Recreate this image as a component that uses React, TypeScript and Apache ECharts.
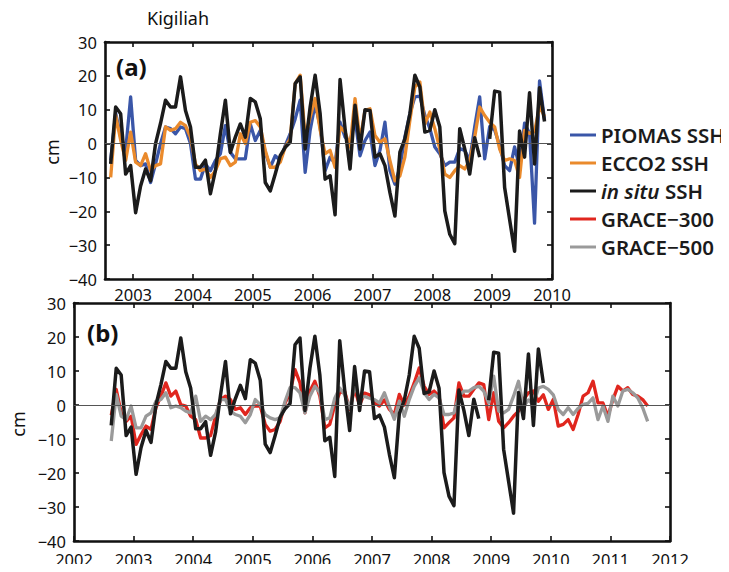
import React, { useEffect, useRef } from "react";
import * as echarts from "echarts";

// Monthly series, first month is August 2002 (mid-month decimal years)
const START_YEAR = 2002;
const START_MONTH = 8;

// SSH anomalies at Kigiliah (cm)
const piomasSSH = [
  -5, 9, 2, -2, 13.8, -5, -6.5, -6, -11.5, -6, 0, 4.9, 4.4, 2.9, 4.9, 4.4, 0, -10.5, -10.5, -6,
  -8, -5, -3, 5.3, -2.6, -4.5, -4.5, -4.5, 5.8, 0.9, 3.9, -2.6, -7, -3.6, -5, -0.6, 2.9, 7.3, 12.8, -8.5,
  3.9, 11.8, 5, -8, -4, -6, 6.3, 1.9, 0.4, 7.3, -3.6, 0.9, 3.4, -6.5, -2, 6.3, -8, -12, -7, 2,
  8.8, 13.8, 14, 8.3, 4.5, -1, -3, -6.5, -5.5, -5.5, -1.5, -2, -5, 5, 13.8, -4.5, 5, 4, -0.6, -6.5,
  -8, -1, -7, 6, 3, -23.5, 18.5, 7,
];

const ecco2SSH = [
  -10, 8.3, 1, -5, 3.4, -5.5, -6.5, -3, -8, -6.5, -6, 4.9, 3.9, 4.4, 6.3, 5.3, 1.9, -6, -8, -7.5,
  -10, -8, -4.5, -4, -6.5, -5.5, 2.9, 0, 6.3, 6.8, 4.9, -2, -7, -7, -5.5, -1, 1.4, 17.7, 20.2, 1.9,
  7.8, 13.3, 4, -3, -2, -7, 4.9, 3.4, -1, 13.3, 0.9, 9.8, 10.3, 2.4, 0.4, 1.4, -5, -11, -9.5, -4,
  6.8, 16.7, 18.2, 5.8, 9.3, 4.4, -1.6, -9, -10, -8, -6.5, -7.5, -5, 1.9, 10.8, 8.3, 6.3, 4.9, -1.6, -5,
  -4.5, -5, -10, 3.9, 3, 3.5, 11, 8,
];

const inSituSSH = [
  -6, 10.8, 8.8, -9, -6.5, -20.4, -12.5, -7.5, -11, 0, 6, 12.8, 10.8, 10.8, 19.7, 9.8, 4.9, -7, -7, -4.9,
  -14.8, -8, 2.9, 12.8, -2.6, 1.9, 5.8, 1.9, 13.3, 12.3, 7.3, -11.5, -14, -9, -3.6, -1.1, 0.4, 17.7, 19.7, -1.6,
  10.8, 20.2, 8.8, -10.5, -9.5, -21, 18.9, 4.4, -7.5, 11.3, -1.6, 10, 9.8, -4, -3, -6.5, -14.5, -21.4, -2.5, 1.4,
  8.8, 20.2, 16.7, 3.4, 3.9, 10, 4.9, -19.9, -26.8, -29.6, 4.4, -1.6, -9, 1.7, -4, null, 1.4, 15.5, 15.2, -13,
  -22.4, -31.8, 3.7, -4, 15, -6, 16.5, 6.5,
];

const grace300 = [
  -3, 4.6, -2.3, -4.8, -3.3, -11.6, -8.7, -6.2, -7.2, -0.8, 2.6, 6.5, 2.6, 4.1, 0.1, -0.3, -3.3, -4.3, -9.7, -9.7,
  -9, -3.3, 1.6, 2.6, 1.6, -1.3, -0.8, -2.8, -0.8, -0.3, -0.3, -5.7, -7.7, -7.2, -4.8, 0.6, 3.6, 10.4, 6.5, -2.3,
  4.1, 7, 2.6, -6.7, -5.7, 0, 3.6, 4, -1.3, 4.6, 0, 3.5, 3, 0.6, -0.3, 1.5, -1.3, -2.8, 3.1, 0,
  2.6, 6.5, 10.9, 5.5, 3.1, 4.1, 2.6, -6.7, -5.2, -3.8, 6.5, 2.6, 2.6, 4.6, 6.5, 6, -4.3, 3.6, -4.8, -6.7,
  -5.2, -3.3, -1.8, 1.6, 3.6, 4.1, 1.1, 3, -1.3, 1.6, -6.2, -5.7, -4.3, -7.2, -2.8, 2.6, 3.6, 7, 0.6, 0.6,
  -3.3, 1.6, 5.5, 4.1, 5.1, 3.1, 2.6, 1.6, -0.3,
];

const grace500 = [
  -10.6, 3.1, -3.3, -4.3, -0.3, -6.7, -6.7, -3.3, -2.3, 1.1, 1.6, 3.6, -0.8, -0.3, -0.8, -1.8, -2.3, 2.6, -4.8, -3.3,
  -4.3, -2.8, 1.6, 1.6, -1.8, -2.8, -3.3, -5.2, -2.8, 1.6, 0.1, -2.8, -3.8, -4.3, -3.8, 1.1, 5.1, 5.1, 3.6, -2.3,
  2.6, 5.5, 3.6, -4.3, -3.8, 2, 5, 3, -1, 5.5, 2, 2.5, 2, 1.6, 0.6, 3.6, -0.5, -4.2, 1.1, -3.3,
  1.6, 5.5, 8, 3.6, 1.6, 3.1, 2.1, -2.8, -2.8, -2.3, 2.6, 4.1, 4.1, 5.1, 5.5, 4.1, 0.6, 8.5, -1.8, -2.3,
  -1.3, 2.6, 7, -0.5, 1.5, 0, 5, 5.5, 4.6, 3, -1.3, -2.8, -0.8, -2.8, -1, 0.2, 0.5, 2.1, -4.3, -0.3,
  -4.8, 2.6, -0.3, 4.1, 4.6, 3.6, 2.1, -0.8, -4.8,
];

const yearTicksA = [2003, 2004, 2005, 2006, 2007, 2008, 2009, 2010];

const COLORS = {
  piomas: "#3a56a8",
  ecco2: "#ea8a2c",
  insitu: "#1b1b1b",
  g300: "#e0261e",
  g500: "#9a9a9a",
};

const FONT = "'Noto Sans', 'DejaVu Sans', sans-serif";

function toPairs(values: (number | null)[]) {
  return values.map((v, i) => [START_YEAR + (START_MONTH - 0.5 + i) / 12, v]);
}

const minus = (v: number) => String(v).replace("-", "\u2212");
const year = (v: number) => String(Math.round(v));

export default function App() {
  const ref = useRef<HTMLDivElement>(null);

  useEffect(() => {
    if (!ref.current) return;
    const chart = echarts.init(ref.current, null, { renderer: "svg" });

    const frame = { show: true, onZero: false, lineStyle: { color: "#111", width: 2.6 } };
    const tick = { show: true, inside: true, length: 5, lineStyle: { color: "#111", width: 1.6 } };
    const label = { color: "#111", fontSize: 16.5, lineHeight: 16, fontFamily: FONT };

    const yBase = { type: "value", min: -40, max: 30, interval: 10, splitLine: { show: false } };
    const line = (name: string, data: (number | null)[], color: string, xi: number, yi: number, width = 3.3, extra = {}) => ({
      type: "line",
      name,
      data: toPairs(data),
      xAxisIndex: xi,
      yAxisIndex: yi,
      showSymbol: false,
      symbol: "none",
      connectNulls: false,
      lineStyle: { color, width, join: "round" },
      itemStyle: { color },
      ...extra,
    });
    const zeroLine = {
      markLine: {
        silent: true,
        symbol: "none",
        label: { show: false },
        lineStyle: { color: "#555", width: 1, type: "solid" },
        data: [{ yAxis: 0 }],
      },
    };

    chart.setOption({
      animation: false,
      backgroundColor: "#fff",
      textStyle: { fontFamily: FONT },
      grid: [
        { left: 105, top: 42, width: 447, height: 237 },
        { left: 74, top: 303, width: 596, height: 238 },
      ],
      xAxis: [
        {
          type: "value", gridIndex: 0, position: "bottom", min: 2002.53, max: 2010,
          axisLine: frame, splitLine: { show: false },
          axisTick: { ...tick, customValues: yearTicksA },
          axisLabel: { ...label, margin: 7, customValues: yearTicksA, formatter: year },
        },
        {
          type: "value", gridIndex: 0, position: "top", min: 2002.53, max: 2010,
          axisLine: frame, splitLine: { show: false },
          axisTick: { ...tick, customValues: yearTicksA },
          axisLabel: { show: false },
        },
        {
          type: "value", gridIndex: 1, position: "bottom", min: 2002, max: 2012, interval: 1,
          axisLine: frame, splitLine: { show: false }, axisTick: tick,
          axisLabel: { ...label, margin: 10, formatter: year },
        },
        {
          type: "value", gridIndex: 1, position: "top", min: 2002, max: 2012, interval: 1,
          axisLine: frame, splitLine: { show: false }, axisTick: tick,
          axisLabel: { show: false },
        },
      ],
      yAxis: [
        { ...yBase, gridIndex: 0, position: "left", axisLine: frame, axisTick: tick,
          axisLabel: { ...label, margin: 8, formatter: minus } },
        { ...yBase, gridIndex: 0, position: "right", axisLine: frame, axisTick: tick, axisLabel: { show: false } },
        { ...yBase, gridIndex: 1, position: "left", axisLine: frame, axisTick: tick,
          axisLabel: { ...label, margin: 8, formatter: minus } },
        { ...yBase, gridIndex: 1, position: "right", axisLine: frame, axisTick: tick, axisLabel: { show: false } },
      ],
      legend: {
        orient: "vertical",
        left: 565,
        top: 119,
        itemWidth: 26,
        itemHeight: 3,
        itemGap: 6,
        icon: "rect",
        selectedMode: false,
        data: ["PIOMAS SSH", "ECCO2 SSH", "in situ SSH", "GRACE\u2212300", "GRACE\u2212500"],
        formatter: (name: string) => (name === "in situ SSH" ? "{i|in situ} SSH" : name),
        textStyle: {
          fontFamily: FONT,
          fontSize: 20.5,
          fontWeight: 600,
          color: "#1b1b1b",
          lineHeight: 22,
          padding: [0, 0, 0, 0],
          rich: { i: { fontFamily: FONT, fontSize: 20.5, fontWeight: 600, fontStyle: "italic", color: "#1b1b1b" } },
        },
      },
      series: [
        line("PIOMAS SSH", piomasSSH, COLORS.piomas, 0, 0, 3.3, zeroLine),
        line("ECCO2 SSH", ecco2SSH, COLORS.ecco2, 0, 0, 3.3),
        line("in situ SSH", inSituSSH, COLORS.insitu, 0, 0, 3.5),
        line("GRACE\u2212300", grace300, COLORS.g300, 2, 2, 3.3, zeroLine),
        line("GRACE\u2212500", grace500, COLORS.g500, 2, 2, 3.3),
        line("in situ SSH", inSituSSH, COLORS.insitu, 2, 2, 3.5),
      ],
      graphic: [
        { type: "text", left: 147, top: 9, style: { text: "Kigiliah", fontFamily: FONT, fontSize: 18, fill: "#111" } },
        { type: "text", left: 116, top: 54, style: { text: "(a)", fontFamily: FONT, fontSize: 24, fontWeight: "bold", fill: "#111" } },
        { type: "text", left: 87, top: 320, style: { text: "(b)", fontFamily: FONT, fontSize: 24, fontWeight: "bold", fill: "#111" } },
        { type: "text", x: 52, y: 152, rotation: Math.PI / 2,
          style: { text: "cm", fontFamily: FONT, fontSize: 18, fill: "#111", align: "center", verticalAlign: "middle" } },
        { type: "text", x: 18, y: 424, rotation: Math.PI / 2,
          style: { text: "cm", fontFamily: FONT, fontSize: 18, fill: "#111", align: "center", verticalAlign: "middle" } },
      ],
    });

    return () => chart.dispose();
  }, []);

  return <div ref={ref} style={{ width: 729, height: 572, margin: -8 }} />;
}
